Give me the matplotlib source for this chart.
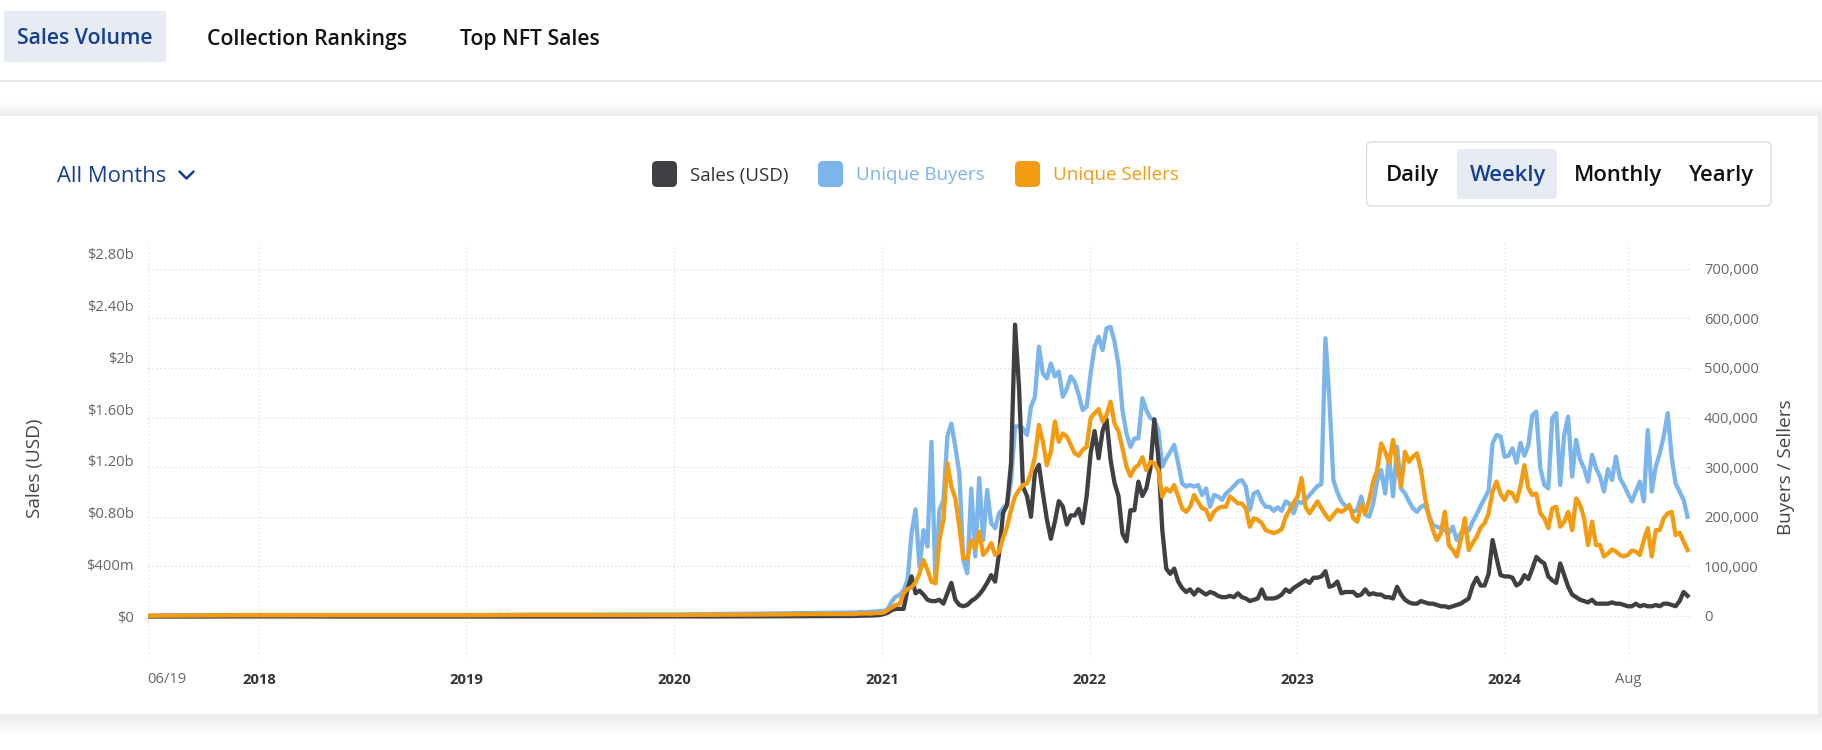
import numpy as np
import pandas as pd
import matplotlib
matplotlib.use('Agg')
import matplotlib.pyplot as plt
import matplotlib.dates as mdates
import matplotlib.transforms as mtransforms
from matplotlib.patches import Rectangle, FancyBboxPatch

plt.rcParams['font.family'] = ['Open Sans', 'DejaVu Sans']

# early flat period, sampled every 12 weeks from 2017-06-19
early_dates = pd.date_range('2017-06-19', periods=15, freq='84D')
sales_early = [0.001, 0.001, 0.002, 0.002, 0.001, 0.001, 0.001, 0.001,
               0.001, 0.001, 0.001, 0.002, 0.002, 0.003, 0.004]          # $ billions
buyers_early = [1, 1.5, 2, 2, 2, 2, 2, 2, 2.5, 2.5, 3, 3, 4, 5, 6]        # thousands
sellers_early = [0.5, 1, 1.5, 1.5, 1.5, 1.5, 1.5, 1.5, 2, 2, 2, 2, 2.5, 3, 4]

# weekly from 2020-11-02 to 2024-11-18
weekly_dates = pd.date_range('2020-11-02', '2024-11-18', freq='7D')
sales_weekly = [
    .005, .005, .006, .007, .008, .008, .009, .010, .012, .02,
    .03, .05, .06, .06, .06, .21, .31, .18, .20, .17,
    .13, .12, .12, .13, .10, .18, .26, .13, .09, .08,
    .09, .12, .14, .17, .21, .26, .32, .27, .49, .80,
    .86, 1.18, 2.25, 1.77, 1.00, .93, .77, 1.11, 1.17, .95,
    .75, .60, .73, .89, .85, .71, .78, .78, .83, .72,
    .93, 1.26, 1.43, 1.22, 1.43, 1.52, 1.21, 1.03, .93, .64,
    .58, .82, .82, 1.04, .93, .99, 1.14, 1.52, 1.23, .67,
    .37, .33, .37, .27, .22, .19, .21, .17, .21, .19,
    .17, .19, .18, .16, .15, .15, .16, .15, .18, .15,
    .14, .12, .13, .14, .21, .14, .14, .14, .15, .17,
    .21, .19, .22, .24, .26, .28, .26, .30, .30, .31,
    .35, .23, .24, .27, .18, .19, .19, .19, .16, .17,
    .21, .17, .18, .17, .17, .15, .15, .14, .23, .17,
    .13, .11, .10, .10, .12, .11, .10, .10, .09, .08,
    .08, .07, .08, .09, .10, .12, .14, .24, .30, .24,
    .24, .33, .59, .45, .32, .31, .31, .30, .24, .26,
    .32, .29, .37, .46, .43, .41, .31, .28, .26, .41,
    .32, .23, .17, .15, .13, .12, .11, .13, .10, .10,
    .10, .10, .11, .10, .10, .09, .08, .08, .10, .08,
    .09, .08, .08, .09, .08, .10, .10, .09, .08, .12,
    .19, .16,
]
buyers_weekly = [
    7, 7, 7, 8, 8, 8, 9, 9, 10, 10,
    14, 29, 39, 42, 52, 73, 167, 215, 99, 173,
    140, 351, 66, 214, 234, 362, 388, 341, 288, 113,
    86, 257, 120, 278, 153, 254, 187, 177, 207, 217,
    227, 271, 382, 382, 378, 365, 422, 442, 543, 489,
    479, 509, 483, 493, 442, 458, 483, 472, 446, 415,
    422, 489, 543, 563, 536, 580, 583, 553, 506, 415,
    368, 341, 358, 358, 439, 415, 399, 395, 375, 301,
    318, 331, 345, 308, 267, 261, 264, 261, 264, 244,
    257, 220, 244, 241, 234, 247, 254, 262, 271, 274,
    261, 214, 247, 251, 231, 220, 220, 212, 219, 212,
    231, 226, 207, 231, 228, 234, 244, 253, 262, 266,
    560, 435, 274, 249, 231, 222, 217, 210, 214, 241,
    204, 200, 227, 271, 294, 247, 321, 241, 341, 257,
    247, 231, 217, 210, 220, 224, 204, 183, 180, 177,
    173, 167, 180, 153, 167, 170, 172, 190, 205, 222,
    237, 253, 348, 365, 362, 321, 323, 338, 309, 349,
    323, 345, 405, 412, 298, 264, 257, 399, 409, 264,
    365, 402, 281, 355, 315, 298, 271, 325, 298, 281,
    251, 296, 274, 321, 278, 264, 247, 231, 251, 271,
    231, 375, 251, 301, 327, 362, 409, 321, 267, 251,
    234, 200,
]
sellers_weekly = [
    4, 4, 4, 5, 5, 5, 5, 6, 6, 7,
    12, 17, 22, 24, 46, 54, 58, 67, 86, 113,
    93, 69, 66, 153, 194, 308, 261, 237, 180, 116,
    116, 153, 136, 170, 123, 133, 147, 123, 130, 157,
    180, 214, 241, 254, 264, 267, 288, 321, 385, 351,
    304, 331, 392, 351, 368, 362, 345, 328, 323, 335,
    341, 399, 409, 417, 392, 405, 432, 388, 372, 338,
    301, 282, 298, 304, 320, 294, 311, 308, 294, 241,
    257, 251, 264, 241, 217, 210, 220, 244, 230, 217,
    214, 194, 210, 217, 220, 220, 241, 234, 227, 227,
    217, 180, 197, 194, 187, 173, 170, 167, 170, 175,
    199, 214, 228, 241, 278, 220, 207, 219, 231, 217,
    204, 194, 204, 214, 210, 215, 224, 197, 190, 224,
    207, 234, 271, 294, 348, 331, 308, 355, 304, 261,
    331, 311, 321, 328, 294, 241, 200, 173, 153, 167,
    210, 143, 133, 120, 153, 197, 133, 147, 160, 178,
    187, 207, 251, 271, 246, 234, 251, 247, 231, 261,
    304, 257, 244, 247, 207, 197, 177, 217, 220, 180,
    190, 210, 173, 237, 224, 197, 143, 190, 143, 143,
    120, 126, 134, 130, 123, 120, 123, 132, 130, 123,
    153, 177, 120, 173, 173, 197, 207, 210, 163, 168,
    150, 133,
]

sales_ticks = [0, 0.4, 0.8, 1.2, 1.6, 2.0, 2.4, 2.8]
sales_tick_labels = ['$0', '$400m', '$0.80b', '$1.20b', '$1.60b', '$2b', '$2.40b', '$2.80b']
count_ticks = [0, 100, 200, 300, 400, 500, 600, 700]
count_tick_labels = ['0', '100,000', '200,000', '300,000', '400,000', '500,000', '600,000', '700,000']
xtick_dates = ['2017-06-19', '2018-01-01', '2019-01-01', '2020-01-01', '2021-01-01',
               '2022-01-01', '2023-01-01', '2024-01-01', '2024-08-05']
xtick_labels = ['06/19', '2018', '2019', '2020', '2021', '2022', '2023', '2024', 'Aug']

dates = early_dates.append(weekly_dates)
sales = np.array(sales_early + sales_weekly)
buyers = np.array(buyers_early + buyers_weekly)
sellers = np.array(sellers_early + sellers_weekly)

C_SALES = '#404044'
C_BUY = '#7cb5ec'
C_SELL = '#f39c12'
NAVY = '#163f91'

W, H = 1822, 750
fig = plt.figure(figsize=(W / 100, H / 100), dpi=100, facecolor='white')

# page decorations in pixel coordinates
bg = fig.add_axes([0, 0, 1, 1])
bg.set_xlim(0, W)
bg.set_ylim(H, 0)
bg.axis('off')

bg.add_patch(Rectangle((3.5, 10.5), 162.5, 51, color='#e7ebf4', lw=0))
tab_kw = dict(ha='center', va='center', fontsize=15.3, fontweight='semibold')
bg.text(84.5, 39, 'Sales Volume', color=NAVY, **tab_kw)
bg.text(306.7, 39, 'Collection Rankings', color='#111111', **tab_kw)
bg.text(530, 39, 'Top NFT Sales', color='#111111', **tab_kw)
bg.plot([0, W], [81, 81], color='#e2e2e2', lw=1.2)

# card with soft shadow
for i in range(10):
    s = 1.6 * (i + 1)
    bg.add_patch(Rectangle((-20, 116 - s * 0.8), 1818 + 20 + s, 598 + s * 0.8 + s * 1.3,
                           color='black', alpha=0.006, lw=0))
bg.add_patch(Rectangle((-20, 116), 1838, 598, color='white', lw=0))

bg.text(57, 176, 'All Months', ha='left', va='center', fontsize=15.8, color=NAVY)
bg.plot([179.5, 186.5, 193.5], [171.5, 178.5, 171.5], color=NAVY, lw=1.8,
        solid_capstyle='round', solid_joinstyle='round')

legend_items = [('Sales (USD)', C_SALES, '#333333', 652), ('Unique Buyers', C_BUY, C_BUY, 818),
                ('Unique Sellers', C_SELL, C_SELL, 1015)]
for label, c, tc, x0 in legend_items:
    bg.add_patch(FancyBboxPatch((x0 + 3, 164), 19, 20, boxstyle='round,pad=3,rounding_size=5',
                                color=c, lw=0))
    bg.text(x0 + 38, 175.5, label, ha='left', va='center', fontsize=13.5, color=tc)

bg.add_patch(FancyBboxPatch((1369.5, 145), 398.5, 58, boxstyle='round,pad=3,rounding_size=5',
                            facecolor='white', edgecolor='#dcdcdc', lw=1))
bg.add_patch(FancyBboxPatch((1460, 152), 94, 44, boxstyle='round,pad=3,rounding_size=4',
                            color='#e7ebf4', lw=0))
for label, xc in [('Daily', 1412), ('Weekly', 1508), ('Monthly', 1618), ('Yearly', 1721)]:
    bg.text(xc, 175.5, label, ha='center', va='center', fontsize=15.8, fontweight='semibold',
            color=NAVY if label == 'Weekly' else '#111111')

bg.text(35, 468, 'Sales (USD)', ha='center', va='center', rotation=90, fontsize=13.6, color='#444444')
bg.text(1786, 467, 'Buyers / Sellers', ha='center', va='center', rotation=90, fontsize=13.6,
        color='#444444')

# chart area
left, right, top, bottom = 147.5, 1692, 242, 657
ax = fig.add_axes([left / W, 1 - bottom / H, (right - left) / W, (bottom - top) / H])
axb = ax.twinx()
axo = ax.twinx()
axb.set_zorder(1)
ax.set_zorder(2)
axo.set_zorder(3)
for a in (ax, axb, axo):
    a.patch.set_visible(False)
    for sp in a.spines.values():
        sp.set_visible(False)

d0 = mdates.date2num(pd.Timestamp('2017-06-19'))
ax.set_xlim(d0, d0 + 2716.8)
ax.set_ylim(-0.311, 2.887)
axb.set_ylim(-82.7, 754)
axo.set_ylim(-82.7, 754)

lw = 3.1
axb.plot(dates, buyers, color=C_BUY, lw=lw, solid_joinstyle='round', zorder=3)
ax.plot(dates, sales, color=C_SALES, lw=lw, solid_joinstyle='round', zorder=3)
axo.plot(dates, sellers, color=C_SELL, lw=lw, solid_joinstyle='round', zorder=3)

grid_kw = dict(color='#d6d6d6', lw=0.8, linestyle=(0, (1, 2.5)))
axb.set_yticks(count_ticks)
axb.set_yticklabels(count_tick_labels)
axb.yaxis.grid(True, **grid_kw)
axb.set_axisbelow(True)
for d in xtick_dates:
    axb.axvline(mdates.date2num(pd.Timestamp(d)), zorder=0.5, **grid_kw)

ax.set_yticks(sales_ticks)
ax.set_yticklabels(sales_tick_labels)
ax.set_xticks([])
axo.set_yticks([])
axo.set_xticks([])

ax.tick_params(axis='y', length=0, pad=9.7, labelsize=10.6, labelcolor='#666666')
axb.tick_params(axis='y', length=0, pad=8.6, labelsize=10.6, labelcolor='#666666')

trans = mtransforms.blended_transform_factory(ax.transData, fig.transFigure)
for d, lab in zip(xtick_dates, xtick_labels):
    is_year = lab.isdigit()
    ax.text(mdates.date2num(pd.Timestamp(d)), 1 - 679.5 / H, lab, transform=trans,
            ha='left' if lab == '06/19' else 'center', va='center', fontsize=10.6,
            fontweight='bold' if is_year else 'normal',
            color='#333333' if is_year else '#666666')

fig.savefig('out.png', dpi=100, facecolor='white')
